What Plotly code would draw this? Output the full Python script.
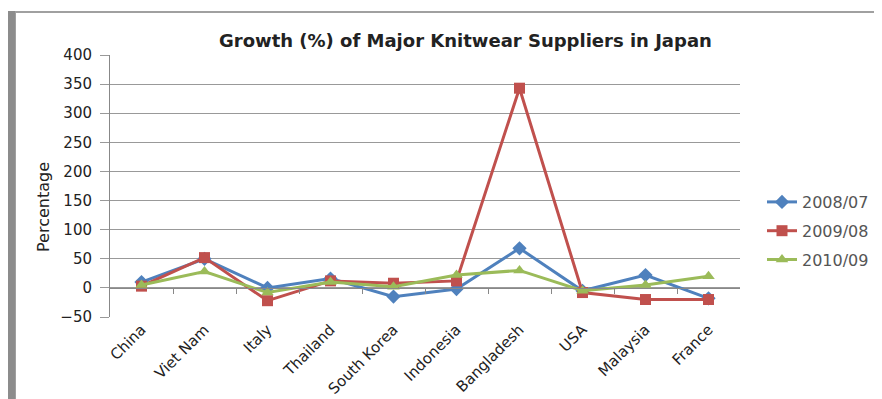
import plotly.graph_objects as go

categories = ["China", "Viet Nam", "Italy", "Thailand", "South Korea", "Indonesia",
              "Bangladesh", "USA", "Malaysia", "France"]
s2008 = [10, 50, 0, 16, -15, -2, 68, -5, 22, -18]
s2009 = [3, 52, -22, 12, 8, 12, 343, -8, -20, -20]
s2010 = [5, 28, -8, 10, 2, 22, 30, -5, 5, 20]
series_names = ["2008/07", "2009/08", "2010/09"]
y_ticks = [-50, 0, 50, 100, 150, 200, 250, 300, 350, 400]
between_ticks = [i + 0.5 for i in range(len(categories) - 1)]

OFF = 8  # page body margin
W, H = 874, 391
L, R, T, B = 102, 142, 47, 82
pw, ph = W - L - R, H - T - B

def px(x):
    return (x - OFF - L) / pw

def py(y):
    return (H - B - (y - OFF)) / ph

FONT = "DejaVu Sans, Verdana, sans-serif"

fig = go.Figure()
styles = [("#4F81BD", "diamond", 11), ("#C0504D", "square", 11), ("#9BBB59", "triangle-up", 11)]
for name, vals, (col, sym, sz) in zip(series_names, [s2008, s2009, s2010], styles):
    fig.add_trace(go.Scatter(x=categories, y=vals, name=name, mode="lines+markers",
                             line=dict(color=col, width=3),
                             marker=dict(symbol=sym, size=sz, color=col),
                             legendgroup=name))
fig.add_trace(go.Scatter(x=[None], y=[None], xaxis="x2", showlegend=False, hoverinfo="skip"))

fig.update_layout(
    width=W, height=H,
    margin=dict(l=L, r=R, t=T, b=B, autoexpand=False),
    paper_bgcolor="white", plot_bgcolor="white",
    font=dict(family=FONT, size=13, color="#333"),
    showlegend=True,
    legend=dict(x=px(762), y=py(185), xanchor="left", yanchor="top",
                tracegroupgap=5, font=dict(size=16, color="#555"), bgcolor="rgba(0,0,0,0)"),
    annotations=[
        dict(text="<b>Growth (%) of Major Knitwear Suppliers in Japan</b>",
             x=px(465), y=py(40), xref="paper", yref="paper", xanchor="center", yanchor="middle",
             showarrow=False, font=dict(family=FONT, size=18, color="#222")),
        dict(text="Percentage", textangle=-90, x=px(43), y=py(207), xref="paper", yref="paper",
             xanchor="center", yanchor="middle",
             showarrow=False, font=dict(family=FONT, size=16, color="#222")),
    ],
    shapes=[
        dict(type="rect", xref="paper", yref="paper", x0=px(15), x1=px(890), y0=py(410), y1=py(12),
             line=dict(color="#a0a0a0", width=2), layer="below"),
        dict(type="rect", xref="paper", yref="paper", x0=px(8), x1=px(15), y0=py(410), y1=py(11),
             line=dict(width=0), fillcolor="#8c8c8c", layer="below"),
    ],
    xaxis=dict(type="category", range=[-0.5, 9.5], tickangle=-45, showgrid=False,
               showline=False, ticks="", automargin=False,
               tickfont=dict(size=15, color="#222")),
    xaxis2=dict(overlaying="x", anchor="free", position=50 / 450, side="bottom",
                range=[-0.5, 9.5], tickvals=between_ticks, showticklabels=False,
                ticks="outside", ticklen=5, tickcolor="#888", showline=True, automargin=False,
                linecolor="#888", showgrid=False, zeroline=False),
    yaxis=dict(range=[-50, 400], tickvals=y_ticks, showgrid=True, gridcolor="#999",
               gridwidth=1, zeroline=False, showline=True, linecolor="#888", automargin=False,
               ticks="outside", ticklen=9, tickcolor="#999", ticklabelstandoff=5,
               tickfont=dict(size=15, color="#222")),
)

fig.write_html("out.html")
